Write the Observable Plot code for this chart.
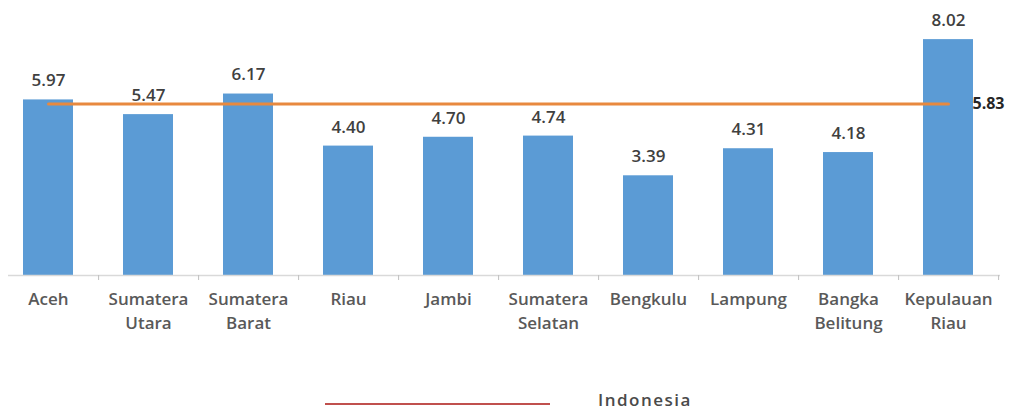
<!DOCTYPE html>
<html>
<head>
<meta charset="utf-8">
<script src="https://cdn.jsdelivr.net/npm/d3@7"></script>
<script src="https://cdn.jsdelivr.net/npm/@observablehq/plot@0.6"></script>
<style>
  html, body { margin: 0; padding: 0; background: #fff; }
  #wrap { width: 1013px; height: 410px; position: relative; overflow: hidden; font-family: "Open Sans", sans-serif; }
  #legend { position: relative; height: 25px; }
  #legend .sw { position: absolute; left: 325px; top: 18px; width: 225px; height: 2px; background: #c0504d; }
  #legend .lb { position: absolute; left: 598px; top: 5px; font-size: 17px; font-weight: 600; color: #4a4a4a; letter-spacing: 1.5px; line-height: 20px; }
</style>
</head>
<body>
<div id="wrap">
  <div id="chart"></div>
  <div id="legend"><div class="sw"></div><div class="lb">Indonesia</div></div>
</div>
<script>
const provinces = ["Aceh", "Sumatera Utara", "Sumatera Barat", "Riau", "Jambi", "Sumatera Selatan", "Bengkulu", "Lampung", "Bangka Belitung", "Kepulauan Riau"];
const tickLabels = ["Aceh", "Sumatera\nUtara", "Sumatera\nBarat", "Riau", "Jambi", "Sumatera\nSelatan", "Bengkulu", "Lampung", "Bangka\nBelitung", "Kepulauan\nRiau"];
const values = [5.97, 5.47, 6.17, 4.40, 4.70, 4.74, 3.39, 4.31, 4.18, 8.02];
const nationalValue = 5.83;
const nationalLabel = "Indonesia";

const data = provinces.map((p, i) => ({province: p, value: values[i], label: tickLabels[i]}));
const labelOf = new Map(data.map(d => [d.province, d.label]));

const chart = Plot.plot({
  width: 1013,
  height: 385,
  marginTop: 0,
  marginBottom: 110,
  marginLeft: 8,
  marginRight: 13,
  style: {fontFamily: "'Open Sans', sans-serif", background: "#fff"},
  x: {domain: provinces, range: [-3, 999], paddingInner: 0.5, paddingOuter: 0.25, label: null},
  y: {domain: [0, 9.35], axis: null},
  marks: [
    Plot.barY(data, {x: "province", y: "value", fill: "#5b9bd5"}),
    Plot.ruleY([0], {stroke: "#d9d9d9", strokeWidth: 1.5}),
    Plot.axisX({tickSize: 5, dx: 50.1, tickFormat: () => "", stroke: "#bfbfbf", label: null}),
    Plot.axisX({tickSize: 0, tickPadding: 13, tickFormat: d => labelOf.get(d), fontSize: 17, fontWeight: 600, fill: "#595959", lineHeight: 1.4, label: null, style: {letterSpacing: "1.5px"}}),
    Plot.text(data, {x: "province", y: "value", text: d => d.value.toFixed(2), dy: -19, fontSize: 17, fontWeight: 600, fill: "#404040", style: {letterSpacing: "1.3px"}}),
    Plot.lineY(provinces, {x: d => d, y: () => nationalValue, stroke: "#e8893f", strokeWidth: 3}),
    Plot.text([nationalValue], {x: () => provinces[provinces.length - 1], y: d => d, text: d => d.toFixed(2), dx: 24, textAnchor: "start", fontSize: 16, fontWeight: "bold", fill: "#262626", style: {letterSpacing: "0.8px"}})
  ]
});
document.getElementById("chart").appendChild(chart);
</script>
</body>
</html>
